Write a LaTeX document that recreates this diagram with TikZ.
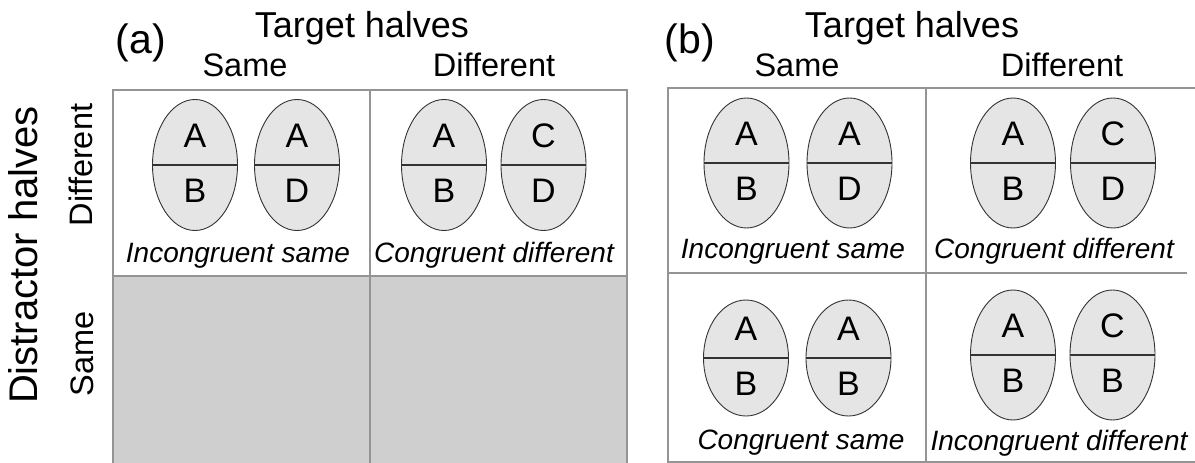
\documentclass[tikz,border=0pt]{standalone}
\usepackage{fontspec}
\setmainfont{Liberation Sans}
\usetikzlibrary{shapes.geometric}

\begin{document}
\begin{tikzpicture}[x=1pt,y=-1pt]
\tikzstyle{gridline}=[draw=black!42,line width=1.6pt]
\tikzstyle{egg}=[ellipse,draw=black!80,fill=black!10,line width=0.9pt,minimum width=85pt,inner sep=0pt]
\tikzstyle{midline}=[draw=black!80,line width=1.3pt]
\tikzstyle{lett}=[inner sep=0pt,font=\fontsize{34}{34}\selectfont]
\tikzstyle{note}=[anchor=base,inner sep=0pt,font=\fontsize{28}{28}\selectfont\itshape]
\tikzstyle{head}=[anchor=base,inner sep=0pt,font=\fontsize{32.5}{33}\selectfont]
\tikzstyle{big}=[anchor=base,inner sep=0pt,font=\fontsize{36}{36}\selectfont]
\useasboundingbox (0,0) rectangle (1195,463);

% panel (a)
\fill[black!19] (113,276) rectangle (627,463);
\draw[gridline] (113,463) -- (113,90) -- (627,90) -- (627,463);
\draw[gridline] (113,276) -- (627,276);
\draw[gridline] (370,90) -- (370,463);

% panel (b)
\draw[gridline] (1195,88) -- (668,88) -- (668,462) -- (1195,462);
\draw[gridline] (668,273) -- (1187,273);
\draw[gridline] (926,88) -- (926,462);

% headings
\node[big] (ta) at (362,37) {Target halves};
\node[big] (tb) at (912,37) {Target halves};
\node[big,font=\fontsize{41}{41}\selectfont] (pa) at (141,53) {(a)};
\node[big,font=\fontsize{41}{41}\selectfont] (pb) at (690,53) {(b)};
\node[head] (sa) at (245,76) {Same};
\node[head] (da) at (494,76) {Different};
\node[head] (sb) at (797,76) {Same};
\node[head] (db) at (1062,76) {Different};
\node[big,rotate=90,font=\fontsize{40}{40}\selectfont] (dh) at (37,255) {Distractor halves};
\node[head,rotate=90] (dd) at (92,165) {Different};
\node[head,rotate=90] (ds) at (93,354) {Same};

% the pairs of split ellipses
\foreach \n/\x/\y/\h/\ltop/\lbot in {a1/195/165/131/A/B, a2/297/165/131/A/D,
    a3/444/165/131/A/B, a4/543.5/165/131/C/D,
    b1/746.5/163/130/A/B, b2/849.5/163/130/A/D,
    b3/1013/163/130/A/B, b4/1113/163/130/C/D,
    b5/746/358/116/A/B, b6/848.5/358/116/A/B,
    b7/1013/355/130/A/B, b8/1112.5/355/130/C/B}{
  \node[egg,minimum height=\h pt] (\n) at (\x,\y) {};
  \draw[midline] (\n.west) -- (\n.east);
  \node[lett] (\n-t) at (\x,\y-29) {\ltop};
  \node[lett] (\n-b) at (\x,\y+26) {\lbot};
}

% captions
\node[note] (ca1) at (238,262) {Incongruent same};
\node[note] (ca2) at (494,262) {Congruent different};
\node[note] (cb1) at (793,258) {Incongruent same};
\node[note] (cb2) at (1054,258) {Congruent different};
\node[note] (cb3) at (801,449) {Congruent same};
\node[note] (cb4) at (1059,450) {Incongruent different};
\end{tikzpicture}
\end{document}
